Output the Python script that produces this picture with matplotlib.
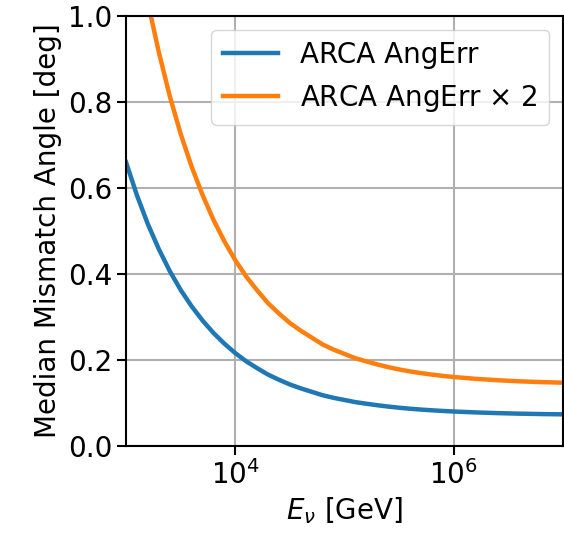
import numpy as np
import matplotlib
matplotlib.use("Agg")
import matplotlib.pyplot as plt
from matplotlib.ticker import NullLocator

# Median mismatch angle vs neutrino energy (log10 E in GeV)
log_energy = [3.0, 3.1, 3.2, 3.3, 3.4, 3.5, 3.6, 3.7, 3.8, 3.9,
              4.0, 4.1, 4.2, 4.3, 4.4, 4.5, 4.6, 4.7, 4.8, 4.9,
              5.0, 5.1, 5.2, 5.3, 5.4, 5.5, 5.6, 5.7, 5.8, 5.9,
              6.0, 6.2, 6.4, 6.6, 6.8, 7.0]
ang_err = [0.660, 0.583, 0.516, 0.458, 0.407, 0.363, 0.325, 0.292, 0.263, 0.238,
           0.216, 0.197, 0.181, 0.166, 0.154, 0.143, 0.134, 0.126, 0.118, 0.112,
           0.107, 0.102, 0.0983, 0.0948, 0.0917, 0.0890, 0.0867, 0.0847, 0.0830, 0.0815,
           0.0802, 0.0781, 0.0765, 0.0752, 0.0743, 0.0736]
scale_factor = 2

labels = ["ARCA AngErr", f"ARCA AngErr $\\times$ {scale_factor}"]

energy = 10.0 ** np.array(log_energy)
ang_err = np.array(ang_err)

plt.rcParams["font.size"] = 20

fig = plt.figure(figsize=(5.64, 5.33), dpi=100)
ax = fig.add_axes([0.2234, 0.1632, 0.775, 0.807])

ax.plot(energy, ang_err, color="#1f77b4", linewidth=3.2, label=labels[0])
ax.plot(energy, scale_factor * ang_err, color="#ff7f0e", linewidth=3.2, label=labels[1])

ax.set_xscale("log")
ax.set_xlim(1e3, 1e7)
ax.set_ylim(0.0, 1.0)
ax.set_xticks([1e4, 1e6])
ax.xaxis.set_minor_locator(NullLocator())
ax.set_yticks([0.0, 0.2, 0.4, 0.6, 0.8, 1.0])

ax.grid(True, color="#b0b0b0", linewidth=1.5)
ax.tick_params(length=6.5, width=1.5)
for sp in ax.spines.values():
    sp.set_linewidth(1.5)

ax.set_xlabel(r"$E_\nu$ [GeV]")
ax.set_ylabel("Median Mismatch Angle [deg]")
ax.legend(loc="upper right", handlelength=2.0)

fig.savefig("out.png", dpi=100)
